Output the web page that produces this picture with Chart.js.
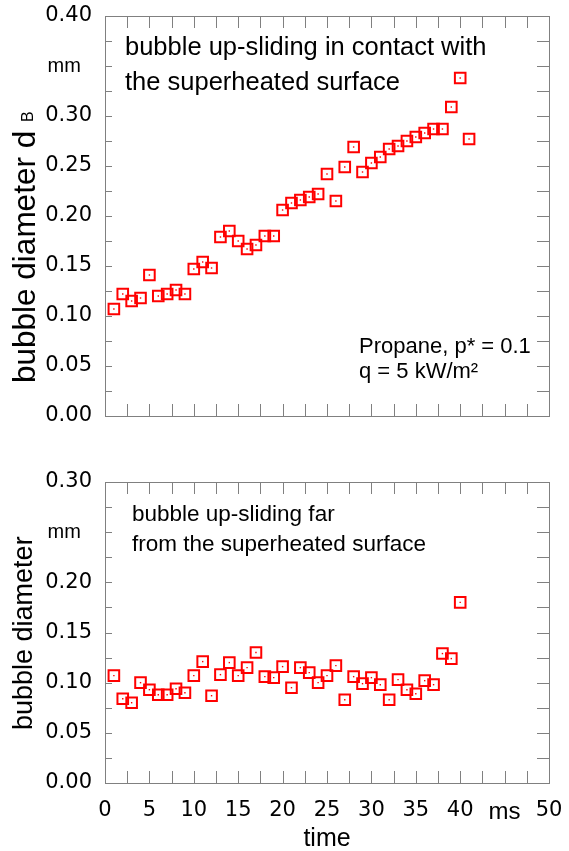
<!DOCTYPE html>
<html>
<head>
<meta charset="utf-8">
<script src="https://cdn.jsdelivr.net/npm/chart.js@4.4.0/dist/chart.umd.min.js"></script>
<style>
  body { margin: 0; background: #fff; }
  .panel { position: absolute; left: 0; width: 569px; }
  #top { top: 0; height: 440px; }
  #bottom { top: 450px; height: 401px; }
</style>
</head>
<body>
<div class="panel" id="top"><canvas id="topChart"></canvas></div>
<div class="panel" id="bottom"><canvas id="bottomChart"></canvas></div>
<script>
// time in ms
const timeTop = [1, 2, 3, 4, 5, 6, 7, 8, 9, 10, 11, 12, 13, 14, 15, 16, 17, 18, 19, 20,
  21, 22, 23, 24, 25, 26, 27, 28, 29, 30, 31, 32, 33, 34, 35, 36, 37, 38, 39, 40, 41];
// bubble diameter in mm, in contact with the surface
const diamTop = [0.107, 0.122, 0.115, 0.118, 0.141, 0.120, 0.122, 0.126, 0.122, 0.147,
  0.154, 0.148, 0.179, 0.185, 0.175, 0.167, 0.171, 0.180, 0.180, 0.206,
  0.213, 0.216, 0.219, 0.222, 0.242, 0.215, 0.249, 0.269, 0.244, 0.253,
  0.259, 0.267, 0.270, 0.275, 0.279, 0.283, 0.287, 0.287, 0.309, 0.338, 0.277];

const timeBottom = [1, 2, 3, 4, 5, 6, 7, 8, 9, 10, 11, 12, 13, 14, 15, 16, 17, 18, 19, 20,
  21, 22, 23, 24, 25, 26, 27, 28, 29, 30, 31, 32, 33, 34, 35, 36, 37, 38, 39, 40];
// bubble diameter in mm, far from the surface
const diamBottom = [0.107, 0.084, 0.080, 0.100, 0.093, 0.088, 0.088, 0.094, 0.090, 0.107,
  0.121, 0.087, 0.108, 0.120, 0.107, 0.115, 0.130, 0.106, 0.105, 0.116,
  0.095, 0.115, 0.110, 0.100, 0.107, 0.117, 0.083, 0.106, 0.099, 0.105,
  0.098, 0.083, 0.103, 0.093, 0.089, 0.102, 0.098, 0.129, 0.124, 0.180];

// tick labels: the unit sits where one number would be
const xUnitTick = 45;   // "ms"
const topUnitTick = 0.35;   // "mm"
const bottomUnitTick = 0.25;

const RED = "#ff0000";
const GREY = "#808080";
const NUM_FONT = "'DejaVu Sans', sans-serif";
const TXT_FONT = "'Liberation Sans', Arial, sans-serif";

const toXY = (xs, ys) => xs.map((x, i) => ({ x: x, y: ys[i] }));

// frame, inward ticks, texts
const framePlugin = {
  id: "framePlugin",
  afterDraw(chart, args, opts) {
    const { ctx, chartArea: a, scales } = chart;
    ctx.save();
    ctx.strokeStyle = GREY;
    ctx.lineWidth = 1;
    ctx.strokeRect(a.left + 0.5, a.top + 0.5, a.right - a.left, a.bottom - a.top);
    ctx.beginPath();
    for (let t = 2.5; t < scales.x.max; t += 2.5) {
      const x = Math.round(scales.x.getPixelForValue(t)) + 0.5;
      ctx.moveTo(x, a.top);
      ctx.lineTo(x, a.top + 12);
      ctx.moveTo(x, a.bottom);
      ctx.lineTo(x, a.bottom - 12);
    }
    for (let v = 0.025; v < scales.y.max - 1e-9; v += 0.025) {
      const y = Math.round(scales.y.getPixelForValue(v)) + 0.5;
      ctx.moveTo(a.left, y);
      ctx.lineTo(a.left + 7, y);
      ctx.moveTo(a.right, y);
      ctx.lineTo(a.right - 12, y);
    }
    ctx.stroke();

    ctx.fillStyle = "#000";
    ctx.textBaseline = "alphabetic";
    ctx.textAlign = "left";
    opts.notes.forEach((n) => {
      ctx.font = n.size + "px " + TXT_FONT;
      ctx.fillText(n.text, n.x, n.y);
    });

    // rotated y title
    const t = opts.yTitle;
    ctx.translate(t.x, t.y);
    ctx.rotate(-Math.PI / 2);
    ctx.font = t.size + "px " + TXT_FONT;
    ctx.fillText(t.text, 0, 0);
    if (t.sub) {
      const w = ctx.measureText(t.text + " ").width;
      ctx.font = t.subSize + "px " + TXT_FONT;
      ctx.fillText(t.sub, w, -2);
    }
    ctx.restore();
  },
};

function makeChart(id, xs, ys, yMax, unitTick, showX, pad, plugOpts) {
  return new Chart(document.getElementById(id), {
    type: "scatter",
    data: {
      datasets: [
        {
          data: toXY(xs, ys),
          pointStyle: "rect",
          pointRadius: 7.5,
          pointHoverRadius: 7.5,
          borderColor: RED,
          backgroundColor: "rgba(0,0,0,0)",
          borderWidth: 2,
          clip: false,
        },
        {
          // small dot in the middle of each square
          data: toXY(xs, ys),
          pointStyle: "rect",
          pointRadius: 1,
          pointHoverRadius: 1,
          borderWidth: 0,
          backgroundColor: RED,
          clip: false,
        },
      ],
    },
    options: {
      responsive: true,
      maintainAspectRatio: false,
      animation: false,
      events: [],
      layout: { padding: pad, autoPadding: false },
      plugins: {
        legend: { display: false },
        tooltip: { enabled: false },
        framePlugin: plugOpts,
      },
      scales: {
        x: {
          type: "linear",
          min: 0,
          max: 50,
          display: showX,
          grid: { display: false, drawTicks: false },
          border: { display: false },
          ticks: {
            stepSize: 5,
            padding: 15,
            color: "#000",
            font: (c) => c.tick && c.tick.value === xUnitTick
              ? { family: TXT_FONT, size: 24 }
              : { family: NUM_FONT, size: 21 },
            callback: (v) => (v === xUnitTick ? "ms" : v),
          },
          title: {
            display: showX,
            text: "time",
            color: "#000",
            font: { family: TXT_FONT, size: 25 },
            padding: { top: 0, bottom: -3 },
          },
          afterFit: (s) => {
            if (showX) s.height = 68;
            s.paddingLeft = 0;
            s.paddingRight = 0;
          },
        },
        y: {
          min: 0,
          max: yMax,
          grid: { display: false, drawTicks: false },
          border: { display: false },
          ticks: {
            stepSize: 0.05,
            padding: 13,
            color: "#000",
            font: (c) => c.tick && Math.abs(c.tick.value - unitTick) < 1e-6
              ? { family: TXT_FONT, size: 20 }
              : { family: NUM_FONT, size: 21 },
            callback: (v) => (Math.abs(v - unitTick) < 1e-6 ? "mm  " : v.toFixed(2)),
          },
          afterFit: (s) => {
            s.width = 105;
            // keep the plot area where the layout padding puts it
            s.paddingTop = 0;
            s.paddingBottom = 0;
          },
        },
      },
    },
    plugins: [framePlugin],
  });
}

makeChart("topChart", timeTop, diamTop, 0.4, topUnitTick, false,
  { top: 16, bottom: 24, left: 0, right: 20 },
  {
    notes: [
      { text: "bubble up-sliding in contact with", x: 125, y: 55, size: 25.5 },
      { text: "the superheated surface", x: 125, y: 90, size: 25.5 },
      { text: "Propane, p* = 0.1", x: 359, y: 353, size: 22 },
      { text: "q = 5 kW/m²", x: 359, y: 378, size: 22 },
    ],
    yTitle: { text: "bubble diameter d", x: 35, y: 383, size: 31.5, sub: "B", subSize: 16 },
  });

makeChart("bottomChart", timeBottom, diamBottom, 0.3, bottomUnitTick, true,
  { top: 32, bottom: 0, left: 0, right: 20 },
  {
    notes: [
      { text: "bubble up-sliding far", x: 132, y: 71, size: 22.5 },
      { text: "from the superheated surface", x: 132, y: 101, size: 22.5 },
    ],
    yTitle: { text: "bubble diameter", x: 32, y: 280, size: 27 },
  });
</script>
</body>
</html>
